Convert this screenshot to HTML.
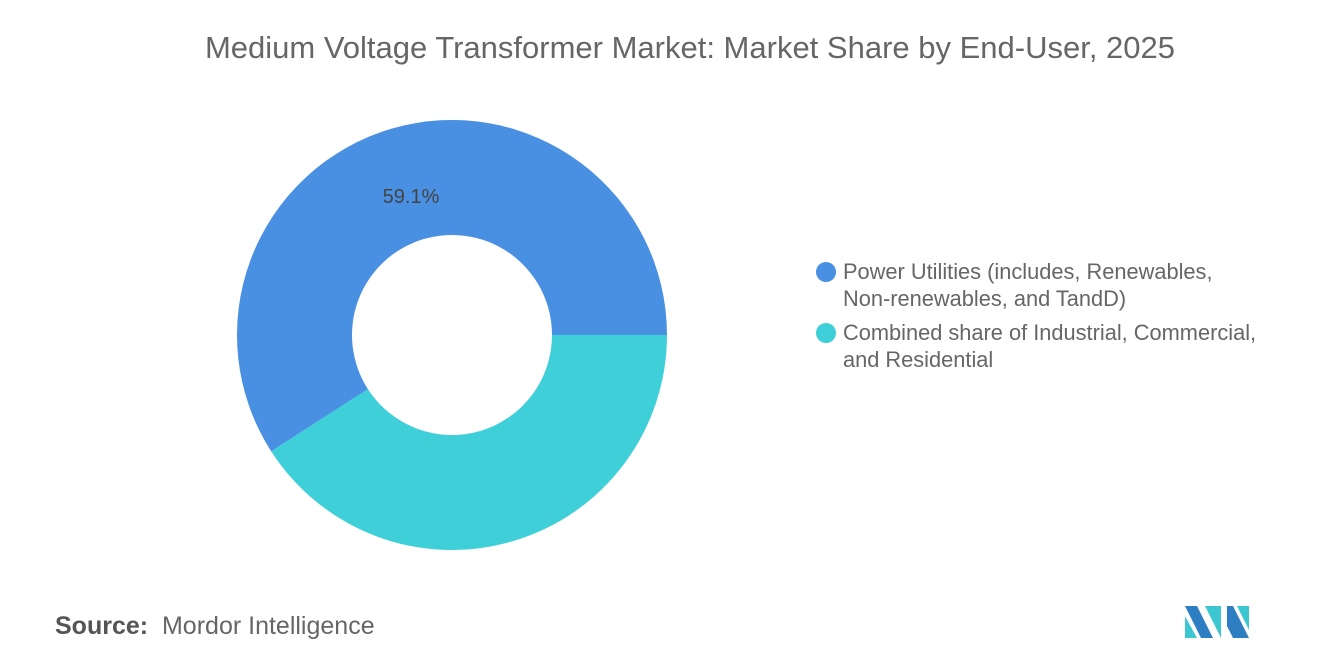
<!DOCTYPE html>
<html><head><meta charset="utf-8"><style>
body{margin:0;width:1320px;height:665px;background:#fff;font-family:"Liberation Sans",sans-serif;overflow:hidden;position:relative}
.t{position:absolute;color:#666;white-space:nowrap}
</style></head><body>
<div class="t" style="left:0;width:1380px;text-align:center;top:30px;font-size:31px;color:#666">Medium Voltage Transformer Market: Market Share by End-User, 2025</div>
<svg id="chart" width="1320" height="665" style="position:absolute;left:0;top:0"></svg>
<div class="t" style="left:843px;top:258px;font-size:21.8px;line-height:27px">Power Utilities (includes, Renewables,<br>Non-renewables, and TandD)</div>
<div class="t" style="left:843px;top:319px;font-size:21.8px;line-height:27px">Combined share of Industrial, Commercial,<br>and Residential</div>
<div class="t" style="left:55px;top:612px;font-size:25px"><b style="font-weight:bold;color:#555">Source:</b>&nbsp; Mordor Intelligence</div>
<svg width="70" height="40" style="position:absolute;left:1183px;top:602px">
<polygon points="2,4 14,4 30,36 18,36" fill="#2e7fc1"/>
<polygon points="2,14 14,36 2,36" fill="#3cc6d0"/>
<polygon points="22,4 38,4 38,36" fill="#3cc6d0"/>
<polygon points="44,4 50,4 66,36 50,36 44,24" fill="#2e7fc1"/>
<polygon points="54,4 66,4 66,28" fill="#3cc6d0"/>
</svg>
<script>
const categories=["Power Utilities","Combined share of Industrial, Commercial, and Residential"];
const values=[59.1,40.9];
const colors=["#4a90e2","#3ecfd9"];
const labels=["59.1%",""];
const svg=document.getElementById('chart');
const NS="http://www.w3.org/2000/svg";
const cx=452,cy=335,R=215,r=100;
const total=values.reduce((a,b)=>a+b,0);
let a0=0;
function pt(a,rad){return [cx+rad*Math.cos(a),cy-rad*Math.sin(a)];}
values.forEach((v,i)=>{
  const a1=a0+v/total*2*Math.PI;
  const large=(a1-a0)>Math.PI?1:0;
  const [x0,y0]=pt(a0,R),[x1,y1]=pt(a1,R),[x2,y2]=pt(a1,r),[x3,y3]=pt(a0,r);
  const p=document.createElementNS(NS,'path');
  p.setAttribute('d',`M${x0},${y0} A${R},${R} 0 ${large} 0 ${x1},${y1} L${x2},${y2} A${r},${r} 0 ${large} 1 ${x3},${y3} Z`);
  p.setAttribute('fill',colors[i]);
  
  
  svg.appendChild(p);
  if(labels[i]){
    const t=document.createElementNS(NS,'text');
    t.setAttribute('x',411);t.setAttribute('y',203);
    t.setAttribute('text-anchor','middle');t.setAttribute('font-size','20');t.setAttribute('fill','#444');
    t.setAttribute('font-family','Liberation Sans, sans-serif');
    t.textContent=labels[i];
    
    
    svg.appendChild(t);
  }
  const c=document.createElementNS(NS,'circle');
  c.setAttribute('cx',826);c.setAttribute('cy',272+i*61);c.setAttribute('r',10);c.setAttribute('fill',colors[i]);
  
  
  svg.appendChild(c);
  a0=a1;
});
</script>
</body></html>
